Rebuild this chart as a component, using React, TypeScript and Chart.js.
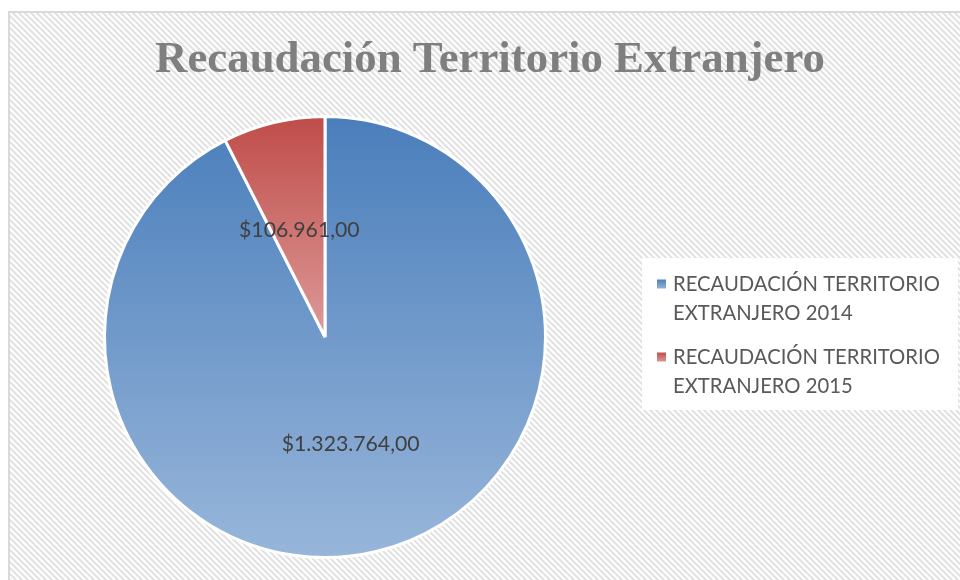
import React, { useEffect, useRef } from "react";
import { Chart, registerables } from "chart.js";

Chart.register(...registerables);

const TITLE = "Recaudación Territorio Extranjero";
const categories = ["RECAUDACIÓN TERRITORIO EXTRANJERO 2014", "RECAUDACIÓN TERRITORIO EXTRANJERO 2015"];
const legendLines = [
  ["RECAUDACIÓN TERRITORIO", "EXTRANJERO 2014"],
  ["RECAUDACIÓN TERRITORIO", "EXTRANJERO 2015"],
];
const values = [1323764, 106961];
const valueLabels = ["$1.323.764,00", "$106.961,00"];
const topColors = ["#4a7ebb", "#bf4c49"];
const bottomColors = ["#98b6da", "#dc9a98"];

function fitFont(ctx: CanvasRenderingContext2D, text: string, family: string, weight: string, target: number) {
  ctx.font = `${weight} 100px ${family}`;
  const w = ctx.measureText(text).width;
  return (100 * target) / w;
}

const framePlugin = {
  id: "frameBg",
  beforeDraw(chart: any) {
    const ctx: CanvasRenderingContext2D = chart.ctx;
    const tile = document.createElement("canvas");
    tile.width = 6;
    tile.height = 6;
    const t = tile.getContext("2d")!;
    t.fillStyle = "#ffffff";
    t.fillRect(0, 0, 6, 6);
    t.strokeStyle = "#e2e2e2";
    t.lineWidth = 2.2;
    for (const x0 of [-6, 0, 6]) {
      t.beginPath();
      t.moveTo(x0 - 1, -1);
      t.lineTo(x0 + 7, 7);
      t.stroke();
    }
    const pattern = ctx.createPattern(tile, "repeat")!;
    ctx.save();
    ctx.fillStyle = "#ffffff";
    ctx.fillRect(0, 0, chart.width, chart.height);
    ctx.fillStyle = pattern;
    ctx.fillRect(9, 12, chart.width, chart.height);
    ctx.strokeStyle = "#d9d9d9";
    ctx.lineWidth = 2;
    ctx.strokeRect(9, 12, chart.width + 10, chart.height + 10);

    // title
    const fam = "'Liberation Serif', serif";
    const size = fitFont(ctx, TITLE, fam, "bold", 670);
    ctx.font = `bold ${size}px ${fam}`;
    ctx.fillStyle = "#7f7f7f";
    ctx.textAlign = "center";
    ctx.textBaseline = "alphabetic";
    ctx.fillText(TITLE, 490, 72);
    ctx.restore();
  },
  afterDraw(chart: any) {
    const ctx: CanvasRenderingContext2D = chart.ctx;
    const meta = chart.getDatasetMeta(0);
    ctx.save();
    // data labels
    const lfam = "Lato, 'Noto Sans', sans-serif";
    const lsize = fitFont(ctx, valueLabels[0], lfam, "normal", 138);
    ctx.font = `normal ${lsize}px ${lfam}`;
    ctx.fillStyle = "#404040";
    ctx.textAlign = "center";
    ctx.textBaseline = "middle";
    meta.data.forEach((arc: any, i: number) => {
      const p = arc.getCenterPoint();
      ctx.fillText(valueLabels[i], p.x, p.y);
    });

    // legend
    ctx.fillStyle = "#ffffff";
    ctx.fillRect(642, 258, 316, 152);
    const gsize = fitFont(ctx, legendLines[0][0], lfam, "normal", 267);
    ctx.font = `normal ${gsize}px ${lfam}`;
    ctx.fillStyle = "#595959";
    ctx.textAlign = "left";
    ctx.textBaseline = "middle";
    const starts = [284, 357];
    legendLines.forEach((lines, i) => {
      const y0 = starts[i];
      const g = ctx.createLinearGradient(0, y0 - 5, 0, y0 + 5);
      g.addColorStop(0, topColors[i]);
      g.addColorStop(1, bottomColors[i]);
      ctx.fillStyle = g;
      ctx.fillRect(657, y0 - 4.5, 9, 9);
      ctx.fillStyle = "#595959";
      lines.forEach((ln, j) => {
        ctx.fillText(ln, 673, y0 + j * 29);
      });
    });
    ctx.restore();
  },
};

export default function App() {
  const ref = useRef<HTMLCanvasElement>(null);
  useEffect(() => {
    document.body.style.margin = "0";
    const canvas = ref.current!;
    const chart = new Chart(canvas, {
      type: "pie",
      data: {
        labels: categories,
        datasets: [
          {
            data: values,
            borderColor: "#ffffff",
            borderWidth: 3,
            backgroundColor: (c: any) => {
              const area = c.chart.chartArea;
              const i = c.dataIndex ?? 0;
              if (!area) return topColors[i];
              const cy = (area.top + area.bottom) / 2;
              const bottom = i === 0 ? area.bottom : cy;
              const g = c.chart.ctx.createLinearGradient(0, area.top, 0, bottom);
              g.addColorStop(0, topColors[i]);
              g.addColorStop(1, bottomColors[i]);
              return g;
            },
          },
        ],
      },
      options: {
        responsive: false,
        animation: false,
        layout: { padding: { left: 103, right: 413, top: 115, bottom: 21 } },
        plugins: {
          legend: { display: false },
          title: { display: false },
          tooltip: { enabled: false },
        },
      },
      plugins: [framePlugin],
    });
    return () => chart.destroy();
  }, []);
  return (
    <div style={{ position: "absolute", left: 0, top: 0, width: 960, height: 580 }}>
      <canvas ref={ref} width={960} height={580} />
    </div>
  );
}
